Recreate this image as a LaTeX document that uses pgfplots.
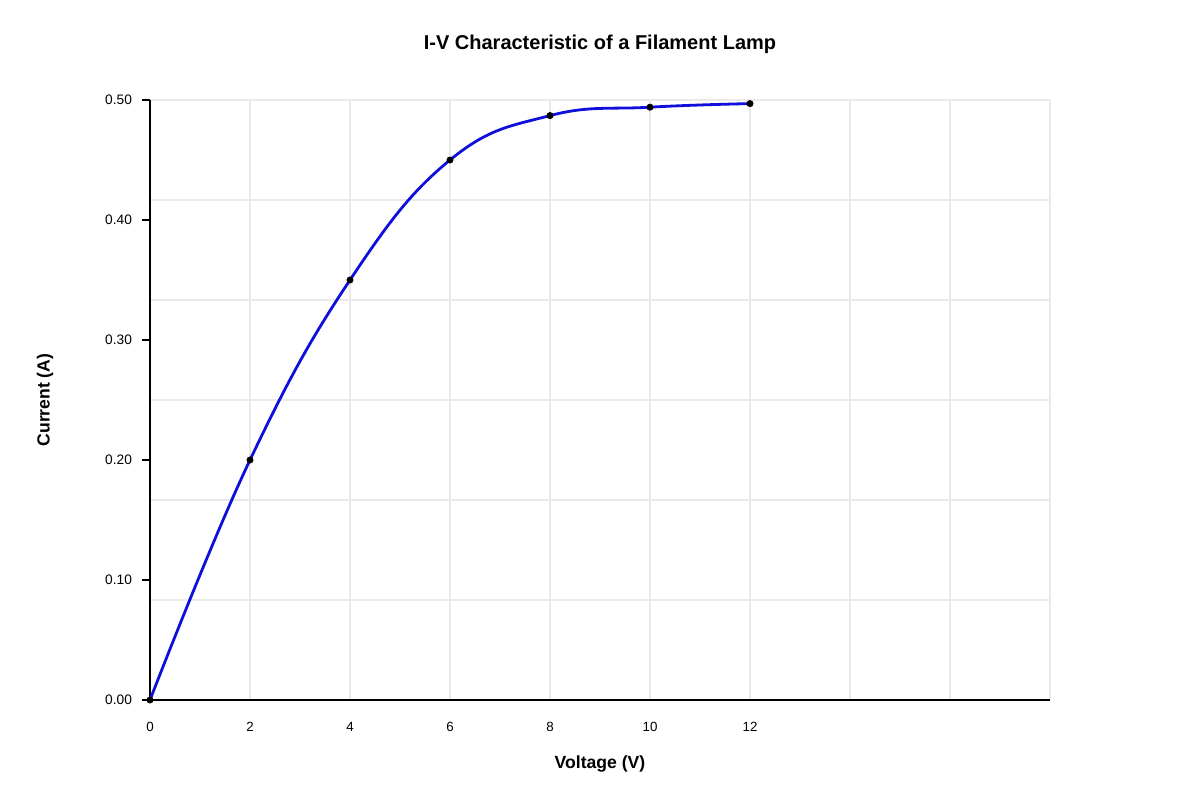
\documentclass[border=0pt]{standalone}
\usepackage{fontspec}
\setmainfont{Liberation Sans}
\usepackage{pgfplots}
\pgfplotsset{compat=1.18}

\definecolor{curveblue}{RGB}{15,15,220}
\definecolor{gridgray}{RGB}{234,234,234}

\begin{document}
\begin{tikzpicture}
% 1 px of the reference = 0.75pt
\path[use as bounding box] (-112.5pt,-75pt) rectangle (787.5pt,525pt);
\begin{axis}[
    at={(0,0)}, anchor=origin,
    scale only axis,
    width=675pt, height=450pt,
    xmin=0, xmax=18, ymin=0, ymax=0.5,
    axis lines*=left,
    axis line style={black, line width=1.5pt},
    /pgf/number format/assume math mode=true,
    xtick={0,2,...,18},
    xticklabels={0,2,4,6,8,10,12,,,},
    xmajorgrids=true,
    x tick label style={font=\fontsize{10}{12}\selectfont, yshift=-7pt},
    ytick={0,0.1,0.2,0.3,0.4,0.5},
    yticklabel style={/pgf/number format/fixed, /pgf/number format/fixed zerofill,
        /pgf/number format/precision=2, font=\fontsize{10.3}{12}\selectfont, xshift=-4pt},
    minor ytick={0.083333,0.166667,0.25,0.333333,0.416667,0.5},
    yminorgrids=true,
    ymajorgrids=false,
    grid style={gridgray, line width=0.9pt},
    minor grid style={gridgray, line width=0.9pt},
    major tick length=6pt,
    minor tick length=0pt,
    tick align=outside,
    x tick style={draw=none},
    y tick style={black, line width=1.2pt},
    title={\bfseries I-V Characteristic of a Filament Lamp},
    title style={font=\fontsize{15}{18}\selectfont, at={(0.5,1)}, anchor=center, yshift=35.5pt},
    xlabel={\bfseries Voltage (V)},
    ylabel={\bfseries Current (A)},
    xlabel style={font=\fontsize{13.2}{16}\selectfont, at={(axis description cs:0.5,0)}, anchor=center, yshift=-48pt},
    ylabel style={font=\fontsize{13.2}{16}\selectfont, at={(axis description cs:-0.1167,0.5)}, anchor=center},
    clip=false,
]
\addplot[curveblue, line width=2.1pt, smooth, tension=0.7] coordinates {
    (0,0) (2,0.20) (4,0.35) (6,0.45) (8,0.487) (10,0.494) (12,0.497)
};
\addplot[only marks, mark=*, mark size=2.4pt, black] coordinates {
    (0,0) (2,0.20) (4,0.35) (6,0.45) (8,0.487) (10,0.494) (12,0.497)
};
\end{axis}
\end{tikzpicture}
\end{document}
